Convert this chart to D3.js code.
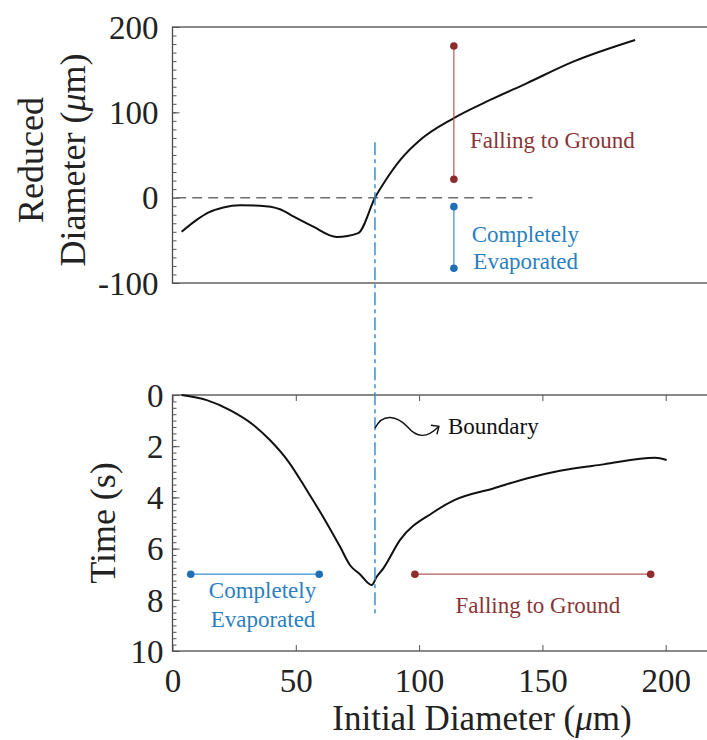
<!DOCTYPE html>
<html><head><meta charset="utf-8">
<script src="https://cdn.jsdelivr.net/npm/d3@7"></script>
<style>body{margin:0;background:#fff}svg{display:block}text{font-family:"Liberation Serif","Times New Roman",serif}</style>
</head><body>
<script>
// ---- data ----
const topX = [3.7, 9.8, 14.5, 20.6, 27.4, 35.5, 43.6, 49, 57.1, 66.6, 75.3, 82.3, 86.5, 92.3, 100.4, 113.9, 128.8, 143.6, 162.5, 187.6];
const topY = [-40, -26, -17.5, -11.5, -9, -9.5, -13.5, -22, -34, -46, -41.5, 1, 20.7, 44, 67.6, 93, 114.5, 134, 159.4, 184.8];
const botX = [3.7, 13.9, 23.3, 32.8, 39.5, 47, 54.4, 61.8, 67.9, 72, 76, 80.8, 82.8, 85.5, 92.3, 105.5, 114.5, 130.1, 143.6, 157.1, 174.8, 195.7, 200.4];
const botY = [0, 0.2, 0.59, 1.17, 1.76, 2.6, 3.71, 4.88, 5.92, 6.65, 7.0, 7.42, 7.1, 6.77, 5.66, 4.6, 4.1, 3.65, 3.26, 2.96, 2.71, 2.45, 2.54];
const xTicks = [0, 50, 100, 150, 200];
const topTicks = [-100, 0, 100, 200];
const botTicks = [0, 2, 4, 6, 8, 10];
const boundaryX = 82.1;
const topRed = [114.1, 177.8, 21.5];   // x, y1, y2
const topBlue = [114.1, -10.5, -82.7];
const botBlue = [7.4, 59.5, 7.0];      // x1, x2, t
const botRed = [98.3, 193.9, 7.0];

const W = 707, H = 740;
const svg = d3.select("body").append("svg").attr("width", W).attr("height", H);

const x = d3.scaleLinear().domain([0, 220]).range([172.5, 172.5 + 2.466 * 220]);
const yT = d3.scaleLinear().domain([-100, 200]).range([283, 27]);
const yB = d3.scaleLinear().domain([0, 10]).range([395, 651]);

const frameCol = "#4a4a4a";
const red = "#8e2b2b", redLine = "#b35a5a", redText = "#8a3535";
const blue = "#1f6fb8", blueLine = "#3d8fd0", blueText = "#2b7fbf";

function frame(y) {
  const r = y.range();
  svg.append("rect").attr("x", x(0)).attr("y", Math.min(...r)).attr("width", x(220) - x(0))
    .attr("height", Math.abs(r[1] - r[0])).attr("fill", "none").attr("stroke", frameCol).attr("stroke-width", 1.3);
}
frame(yT); frame(yB);

const fmt = d => String(d);

// top y axis
const gTy = svg.append("g").attr("transform", `translate(${x(0)},0)`);
gTy.call(d3.axisLeft(yT).tickValues(d3.range(-100, 201, 10)).tickSize(-4).tickFormat(""));
gTy.call(g => g.select(".domain").remove());
const gTy2 = svg.append("g").attr("transform", `translate(${x(0)},0)`);
gTy2.call(d3.axisLeft(yT).tickValues(topTicks).tickSize(-7).tickPadding(14).tickFormat(fmt));
gTy2.select(".domain").remove();
gTy2.selectAll("text").attr("font-size", 33).attr("fill", "#222").attr("font-family", "Liberation Serif").attr("dy", "0.34em");

// bottom y axis
const gBy = svg.append("g").attr("transform", `translate(${x(0)},0)`);
gBy.call(d3.axisLeft(yB).tickValues(d3.range(0, 10.01, 0.25)).tickSize(-4).tickFormat(""));
gBy.select(".domain").remove();
const gBy2 = svg.append("g").attr("transform", `translate(${x(0)},0)`);
gBy2.call(d3.axisLeft(yB).tickValues(botTicks).tickSize(-7).tickPadding(9).tickFormat(fmt));
gBy2.select(".domain").remove();
gBy2.selectAll("text").attr("font-size", 33).attr("fill", "#222").attr("font-family", "Liberation Serif").attr("dy", "0.34em");

// bottom x axis (ticks at bottom and top edges)
const gBx = svg.append("g").attr("transform", `translate(0,${yB(10)})`);
gBx.call(d3.axisBottom(x).tickValues(xTicks).tickSize(-6).tickPadding(18).tickFormat(fmt));
gBx.select(".domain").remove();
gBx.selectAll("text").attr("font-size", 33).attr("fill", "#222").attr("font-family", "Liberation Serif").attr("dy", "0.71em");
const gBxT = svg.append("g").attr("transform", `translate(0,${yB(0)})`);
gBxT.call(d3.axisTop(x).tickValues(xTicks).tickSize(-6).tickFormat(""));
gBxT.select(".domain").remove();
svg.selectAll(".tick line").attr("stroke", "#555").attr("stroke-width", 1);

// zero dashed line in top plot
svg.append("line").attr("x1", x(1.5)).attr("x2", x(146)).attr("y1", yT(0)).attr("y2", yT(0))
  .attr("stroke", "#6f6f6f").attr("stroke-width", 1.5).attr("stroke-dasharray", "10,6");

// curves
const topData = topX.map((v, i) => [v, topY[i]]);
const botData = botX.map((v, i) => [v, botY[i]]);
svg.append("path").datum(topData).attr("fill", "none").attr("stroke", "#111").attr("stroke-width", 2)
  .attr("d", d3.line().x(d => x(d[0])).y(d => yT(d[1])).curve(d3.curveMonotoneX));
svg.append("path").datum(botData).attr("fill", "none").attr("stroke", "#111").attr("stroke-width", 2)
  .attr("d", d3.line().x(d => x(d[0])).y(d => yB(d[1])).curve(d3.curveMonotoneX));

// boundary line
svg.append("line").attr("x1", x(boundaryX)).attr("x2", x(boundaryX)).attr("y1", yT(65)).attr("y2", yB(8.6))
  .attr("stroke", blueLine).attr("stroke-width", 1.5).attr("stroke-dasharray", "13,4,4,4");

// annotations
function vSeg(xv, a, b, y, lc, dc) {
  svg.append("line").attr("x1", x(xv)).attr("x2", x(xv)).attr("y1", y(a)).attr("y2", y(b)).attr("stroke", lc).attr("stroke-width", 1.2);
  [a, b].forEach(v => svg.append("circle").attr("cx", x(xv)).attr("cy", y(v)).attr("r", 3.8).attr("fill", dc));
}
function hSeg(a, b, t, y, lc, dc) {
  svg.append("line").attr("x1", x(a)).attr("x2", x(b)).attr("y1", y(t)).attr("y2", y(t)).attr("stroke", lc).attr("stroke-width", 1.2);
  [a, b].forEach(v => svg.append("circle").attr("cx", x(v)).attr("cy", y(t)).attr("r", 3.8).attr("fill", dc));
}
vSeg(topRed[0], topRed[1], topRed[2], yT, redLine, red);
vSeg(topBlue[0], topBlue[1], topBlue[2], yT, blueLine, blue);
hSeg(botBlue[0], botBlue[1], botBlue[2], yB, blueLine, blue);
hSeg(botRed[0], botRed[1], botRed[2], yB, redLine, red);

function label(txt, xv, yv, y, col, anchor, size) {
  svg.append("text").attr("x", x(xv)).attr("y", y(yv)).attr("fill", col).attr("font-size", size || 23)
    .attr("text-anchor", anchor || "start").text(txt);
}
label("Falling to Ground", 120.6, 58.2, yT, redText);
label("Completely", 121.3, -51.9, yT, blueText);
label("Evaporated", 122, -83.6, yT, blueText);
label("Completely", 36.5, 7.93, yB, blueText, "middle");
label("Evaporated", 36.7, 9.06, yB, blueText, "middle");
label("Falling to Ground", 148.2, 8.5, yB, redText, "middle");
label("Boundary", 111.7, 1.54, yB, "#111");

// boundary squiggle arrow
const bx = x(boundaryX), by = yB(1.3);
const sq = d3.path();
sq.moveTo(bx, by);
sq.bezierCurveTo(bx + 8, by - 16, bx + 22, by - 12, bx + 32, by - 2);
sq.bezierCurveTo(bx + 42, by + 10, bx + 52, by + 10, bx + 63, by - 1);
svg.append("path").attr("d", sq.toString()).attr("fill", "none").attr("stroke", "#111").attr("stroke-width", 1.4);
const ah = d3.path();
ah.moveTo(bx + 56, by - 3); ah.lineTo(bx + 64, by - 2); ah.lineTo(bx + 62, by + 6);
svg.append("path").attr("d", ah.toString()).attr("fill", "none").attr("stroke", "#111").attr("stroke-width", 1.4);

// axis titles
svg.append("text").attr("transform", "translate(43,160) rotate(-90)").attr("text-anchor", "middle")
  .attr("font-size", 36).attr("fill", "#222").text("Reduced");
const t2 = svg.append("text").attr("transform", "translate(85,160) rotate(-90)").attr("text-anchor", "middle")
  .attr("font-size", 36).attr("fill", "#222");
t2.append("tspan").text("Diameter (");
t2.append("tspan").attr("font-style", "italic").text("μ");
t2.append("tspan").text("m)");
svg.append("text").attr("transform", "translate(115,523) rotate(-90)").attr("text-anchor", "middle")
  .attr("font-size", 36).attr("fill", "#222").text("Time (s)");
const t3 = svg.append("text").attr("x", 482).attr("y", 730).attr("text-anchor", "middle")
  .attr("font-size", 35).attr("fill", "#222");
t3.append("tspan").text("Initial Diameter (");
t3.append("tspan").attr("font-style", "italic").text("μ");
t3.append("tspan").text("m)");
</script>
</body></html>
